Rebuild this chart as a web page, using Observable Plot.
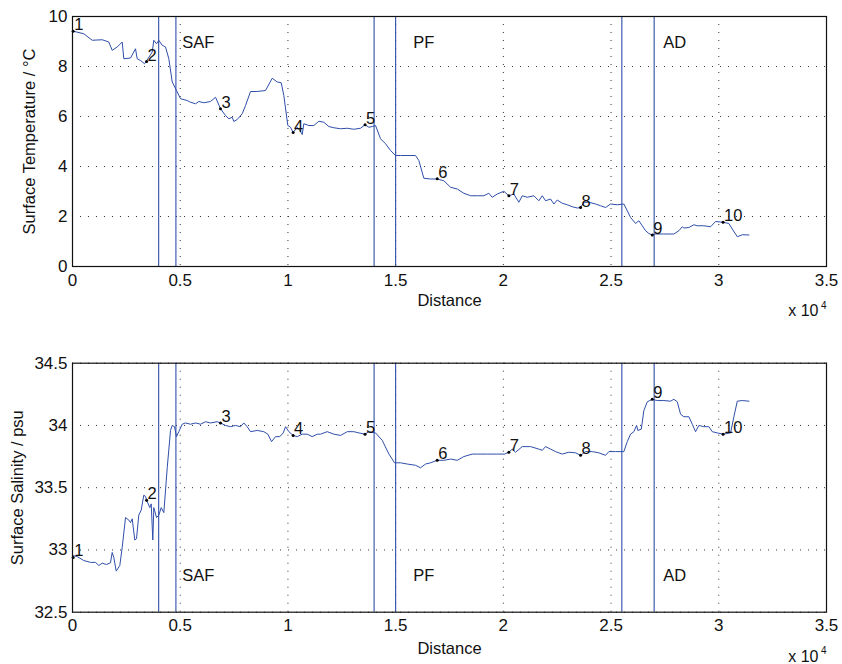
<!DOCTYPE html>
<html><head><meta charset="utf-8">
<script src="https://cdn.jsdelivr.net/npm/d3@7"></script>
<script src="https://cdn.jsdelivr.net/npm/@observablehq/plot@0.6"></script>
<style>body{margin:0;background:#fff}#c svg{display:block}</style>
</head><body><div id="c"></div>
<script>
// ---- data ----
const xTicks = [0, 5000, 10000, 15000, 20000, 25000, 30000, 35000];
const tempTicks = [0, 2, 4, 6, 8, 10];
const salTicks = [32.5, 33, 33.5, 34, 34.5];

const tempDist = [0,525,914,1379,1685,1843,2075,2307,2383,2693,2925,3003,3157,3343,3420,3700,3775,3900,4007,4164,4318,4471,4629,4828,5014,5325,5478,5710,5864,6096,6407,6639,6871,7103,7257,7414,7489,7646,7878,8032,8264,8575,8960,9271,9503,9689,9810,9995,10121,10240,10432,10550,10664,10738,10970,11202,11435,11667,11899,12131,12442,12753,13060,13370,13580,13756,13914,14067,14299,14531,14763,14995,15227,15924,16077,16309,16620,16930,17238,17549,17860,18166,18477,18788,19095,19327,19484,19716,20023,20256,20487,20720,20877,21109,21416,21648,21806,21959,22191,22345,22502,22734,22966,23199,23431,23584,23737,23969,24280,24513,24745,24977,25288,25594,25752,25905,26137,26291,26448,26602,26755,26912,27066,27451,27915,28147,28305,28380,28612,28844,29002,29308,29619,29851,30200,30469,30627,30859,31091,31398];
const tempVal = [9.42,9.31,9.05,9.07,8.98,8.65,8.78,8.98,8.31,8.34,8.71,8.31,8.24,8.11,8.20,8.58,9.05,8.91,9.05,8.85,8.78,8.31,7.38,7.04,6.71,6.64,6.57,6.51,6.60,6.55,6.60,6.77,6.31,6.04,5.91,5.97,5.80,5.88,6.11,6.44,7.00,7.00,7.04,7.53,7.38,7.35,6.84,5.64,5.57,5.36,5.57,5.45,5.28,5.71,5.64,5.64,5.81,5.77,5.60,5.55,5.51,5.53,5.49,5.53,5.67,5.57,5.60,5.64,5.11,4.91,4.64,4.44,4.44,4.44,4.24,3.53,3.50,3.50,3.43,3.17,3.10,2.93,2.83,2.83,2.83,2.93,2.77,2.90,3.01,2.83,2.90,2.57,2.83,2.77,2.83,2.63,2.83,2.63,2.70,2.50,2.66,2.53,2.47,2.39,2.34,2.36,2.57,2.57,2.50,2.43,2.36,2.50,2.47,2.50,2.23,1.96,1.72,1.83,1.63,1.43,1.32,1.26,1.30,1.30,1.30,1.43,1.59,1.54,1.56,1.67,1.63,1.63,1.59,1.80,1.77,1.72,1.50,1.19,1.27,1.26];

const salDist = [0,218,525,836,1068,1221,1379,1578,1764,1843,1917,2029,2196,2307,2461,2614,2693,2772,2892,2971,3078,3189,3310,3389,3440,3589,3654,3728,3775,3900,4007,4118,4239,4397,4550,4629,4735,4828,4935,5093,5246,5478,5710,5942,6175,6407,6718,6870,7103,7335,7567,7800,7953,8110,8264,8575,8881,9067,9239,9424,9624,9782,9889,10042,10240,10432,10664,10896,11128,11360,11513,11825,12131,12442,12753,13060,13292,13580,13756,14067,14378,14689,14949,15227,15539,15924,16156,16388,16620,16930,17238,17549,17860,18166,18556,18788,19253,19716,20056,20256,20413,20566,20877,21263,21648,21806,21959,22191,22423,22734,23041,23352,23584,23816,24127,24434,24745,24898,25209,25594,25752,25905,26059,26184,26244,26402,26523,26681,26912,27145,27451,27762,27915,28073,28227,28380,28612,28770,28923,29076,29308,29540,29698,29930,30200,30548,30701,30859,31091,31398];
const salVal = [32.955,32.947,32.915,32.90,32.90,32.875,32.894,32.883,32.897,32.98,32.94,32.83,32.875,33.02,33.26,33.24,33.22,33.25,33.08,33.09,33.28,33.32,33.44,33.43,33.40,33.34,33.37,33.08,33.34,33.26,33.28,33.34,33.30,33.66,33.96,34.00,33.99,33.91,33.95,34.01,34.02,34.01,34.02,34.01,34.03,34.02,34.03,34.02,34.00,33.99,34.00,33.99,34.02,33.99,33.95,33.96,33.95,33.93,33.87,33.91,33.91,33.94,33.99,33.95,33.92,33.91,33.93,33.93,33.91,33.93,33.93,33.95,33.93,33.92,33.95,33.95,33.94,33.93,33.95,33.94,33.88,33.77,33.70,33.70,33.69,33.68,33.66,33.69,33.70,33.72,33.72,33.73,33.72,33.75,33.77,33.77,33.77,33.77,33.77,33.785,33.81,33.785,33.83,33.83,33.81,33.80,33.83,33.81,33.79,33.77,33.785,33.78,33.76,33.79,33.79,33.78,33.76,33.79,33.79,33.79,33.87,33.93,33.95,34.00,33.96,33.97,34.12,34.19,34.21,34.20,34.20,34.195,34.21,34.19,34.09,34.07,34.07,34.01,33.95,34.00,33.99,33.99,33.95,33.94,33.93,33.94,34.07,34.195,34.20,34.195];

const stationNum = ["1","2","3","4","5","6","7","8","9","10"];
const stationDist = [30,3440,6870,10240,13580,16930,20256,23584,26912,30200];
const stationTemp = [9.41,8.20,6.31,5.36,5.67,3.51,2.83,2.36,1.26,1.77];
const stationSal = [32.94,33.40,34.02,33.92,33.93,33.72,33.785,33.76,34.21,33.93];

const frontLineDist = [4000,4800,14000,15000,25500,27000];
const frontNames = ["SAF","PF","AD"];
const frontLabelDist = [5090,15820,27420];

// ---- styling ----
const LINE = "#2f4eaa";
const FONT = "'Liberation Sans', Arial, Helvetica, sans-serif";
const fmtX = d => String(+(d / 1e4).toFixed(2));

const temp = tempDist.map((d, i) => ({d, v: tempVal[i]}));
const sal = salDist.map((d, i) => ({d, v: salVal[i]}));
const stT = stationDist.map((d, i) => ({d, v: stationTemp[i], n: stationNum[i]}));
const stS = stationDist.map((d, i) => ({d, v: stationSal[i], n: stationNum[i]}));
const fronts = frontNames.map((n, i) => ({n, d: frontLabelDist[i]}));

function panel({data, st, ticks, domain, ylabel, ylabelDx, mt, mb, labelTop, distDy, tickFmt}) {
  return Plot.plot({
    width: 842, height: 332,
    marginLeft: 72, marginRight: 16, marginTop: mt, marginBottom: mb,
    style: {fontFamily: FONT, fontSize: "17px", color: "#111", background: "#fff", overflow: "visible"},
    x: {domain: [0, 35000]},
    y: {domain},
    marks: [
      Plot.gridX(xTicks, {stroke: "#333", strokeOpacity: 1, strokeWidth: 1, strokeDasharray: "1,7"}),
      Plot.gridY(ticks, {stroke: "#333", strokeOpacity: 1, strokeWidth: 1, strokeDasharray: "1,7"}),
      Plot.ruleX(frontLineDist, {stroke: LINE, strokeWidth: 1.1}),
      Plot.line(data, {x: "d", y: "v", stroke: LINE, strokeWidth: 1}),
      Plot.dot(st, {x: "d", y: "v", r: 1.5, fill: "#000", stroke: null}),
      Plot.text(st, {x: "d", y: "v", text: "n", textAnchor: "start", lineAnchor: "bottom", dx: 1, dy: -1, fontSize: 16.5, fill: "#111"}),
      Plot.text(fronts, {x: "d", text: "n", frameAnchor: labelTop ? "top" : "bottom", textAnchor: "start", lineAnchor: "bottom", dy: labelTop ? 31 : -31, fontSize: 16.5, fill: "#111"}),
      Plot.frame({stroke: "#111", strokeWidth: 1.2}),
      Plot.axisX(xTicks, {tickSize: 0, tickPadding: 7, tickFormat: fmtX, label: null, fill: "#111"}),
      Plot.axisY(ticks, {tickSize: 0, tickPadding: 5, tickFormat: tickFmt, label: null, fill: "#111"}),
      Plot.text(["Distance"], {frameAnchor: "bottom", textAnchor: "middle", lineAnchor: "bottom", dy: distDy, fontSize: 16.5, fill: "#111"}),
      Plot.text(["x 10"], {frameAnchor: "bottom-right", textAnchor: "end", lineAnchor: "bottom", dx: -8, dy: 49.5, fontSize: 16, fill: "#111"}),
      Plot.text(["4"], {frameAnchor: "bottom-right", textAnchor: "end", lineAnchor: "bottom", dx: 0, dy: 42, fontSize: 10, fill: "#111"}),
      Plot.text([ylabel], {frameAnchor: "left", textAnchor: "middle", rotate: -90, lineAnchor: "middle", dx: ylabelDx, fontSize: 16.5, fill: "#111"})
    ]
  });
}

const c = document.getElementById("c");
c.append(panel({data: temp, st: stT, ticks: tempTicks, domain: [0, 10], ylabel: "Surface Temperature / °C", ylabelDx: -42.5, mt: 16, mb: 66, labelTop: true, distDy: 39, tickFmt: d => String(d)}));
c.append(panel({data: sal, st: stS, ticks: salTicks, domain: [32.5, 34.5], ylabel: "Surface Salinity / psu", ylabelDx: -55, mt: 30.7, mb: 52.3, labelTop: false, distDy: 41.5, tickFmt: d => String(d)}));
</script></body></html>
